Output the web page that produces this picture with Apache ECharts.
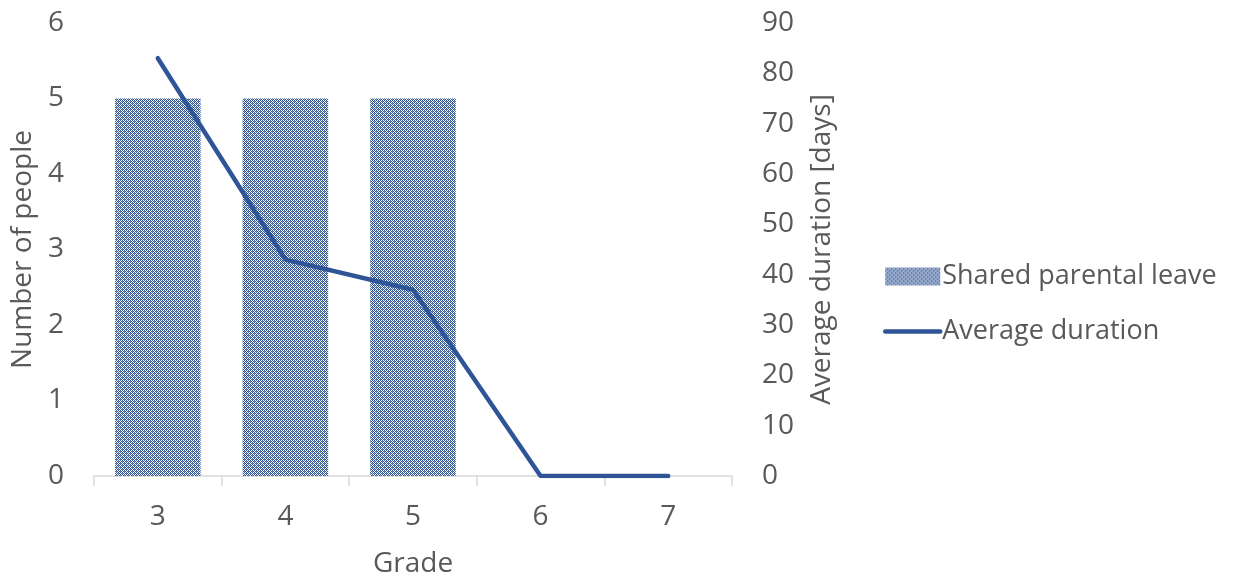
<!DOCTYPE html>
<html><head><meta charset="utf-8">
<script src="https://cdn.jsdelivr.net/npm/echarts@6/dist/echarts.min.js"></script>
<style>html,body{margin:0;padding:0;background:#fff}#c{width:1242px;height:579px}</style>
</head><body><div id="c"></div>
<script>
const grades = ['3','4','5','6','7'];
const sharedLeave = [5,5,5,0,0];
const avgDuration = [83,43,37,0,0];
const leftTicks = [0,1,2,3,4,5,6];
const rightTicks = [0,10,20,30,40,50,60,70,80,90];

function makePattern(){
  const c = document.createElement('canvas');
  c.width = 4; c.height = 4;
  const g = c.getContext('2d');
  g.fillStyle = '#ffffff'; g.fillRect(0,0,4,4);
  const D = '#2F5597', L = '#7d94c6';
  const map = [
    'DWDW',
    'WDLD',
    'DWDW',
    'LDWD'
  ];
  for (let y=0;y<4;y++) for (let x=0;x<4;x++){
    const ch = map[y][x];
    if (ch==='D'){g.fillStyle=D;g.fillRect(x,y,1,1);}
    else if (ch==='L'){g.fillStyle=L;g.fillRect(x,y,1,1);}
  }
  return c;
}
const pat = {image: makePattern(), repeat: 'repeat'};
const font = '"Open Sans", sans-serif';
const txt = '#595959';
const FS = 28;
const chart = echarts.init(document.getElementById('c'), null, {renderer:'canvas'});
chart.setOption({
  animation:false,
  textStyle:{fontFamily:font},
  grid:{left:94, right:510, top:23, bottom:103, outerBoundsMode:'none', containLabel:false},
  legend:{
    orient:'vertical', left:883, top:263, itemGap:28, padding:0,
    itemWidth:55, itemHeight:18, itemGap:28,
    textStyle:{fontSize:27, color:txt, fontFamily:font, padding:[0,0,0,-3]},
    data:[
      {name:'Shared parental leave', icon:'rect'},
      {name:'Average duration', itemStyle:{color:'rgba(0,0,0,0)', borderWidth:0, opacity:0},
       lineStyle:{color:'#2F5597', width:4.5, cap:'round'}}
    ]
  },
  xAxis:{
    type:'category', data:grades, name:'Grade', nameLocation:'middle', nameGap:74,
    nameTextStyle:{fontSize:FS,color:txt},
    axisLine:{lineStyle:{color:'#d9d9d9', width:1.5}},
    axisTick:{show:true, length:10, lineStyle:{color:'#d9d9d9', width:1.5}},
    axisLabel:{fontSize:FS, color:txt, margin:27}
  },
  yAxis:[
    {type:'value', min:0, max:6, interval:1, name:'Number of people', nameLocation:'middle', nameGap:57,
     nameTextStyle:{fontSize:FS,color:txt},
     axisLine:{show:false}, axisTick:{show:false}, splitLine:{show:false},
     axisLabel:{fontSize:FS, color:txt, margin:30}},
    {type:'value', min:0, max:90, interval:10, name:'Average duration [days]', nameLocation:'middle', nameGap:76,
     nameTextStyle:{fontSize:FS,color:txt},
     axisLine:{show:false}, axisTick:{show:false}, splitLine:{show:false},
     axisLabel:{fontSize:FS, color:txt, margin:30}}
  ],
  series:[
    {name:'Shared parental leave', type:'bar', data:sharedLeave, barCategoryGap:'33%',
     itemStyle:{color:pat}},
    {name:'Average duration', type:'line', yAxisIndex:1, data:avgDuration, symbol:'none',
     lineStyle:{color:'#2F5597', width:4.5, cap:'round'}, itemStyle:{color:'#2F5597'}}
  ]
});
</script></body></html>
